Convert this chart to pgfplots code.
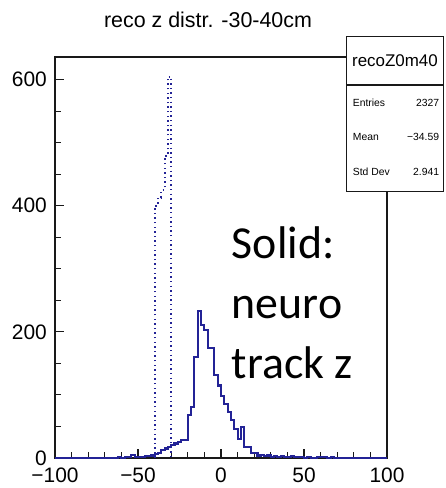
\documentclass[border=0pt]{standalone}
\usepackage{fontspec}
\setmainfont{Liberation Sans}
\newfontfamily\calibri{Carlito}
\usepackage{pgfplots}
\pgfplotsset{compat=1.18}
\definecolor{histblue}{RGB}{35,35,150}
\begin{document}
\begin{tikzpicture}[x=1bp,y=1bp]
\useasboundingbox (0,0) rectangle (446,488);
\begin{axis}[
  at={(55bp,30bp)}, anchor=south west,
  scale only axis, width=332bp, height=401bp,
  xmin=-100, xmax=100, ymin=0, ymax=636,
  axis line style={line width=1.3bp, black!90},
  tick pos=left,
  xtick={-100,-50,0,50,100},
  xticklabels={−100,−50,0,50,100},
  ytick={0,200,400,600},
  yticklabels={0,200,400,600},
  minor x tick num=4,
  minor y tick num=3,
  major tick length=9bp,
  minor tick length=5.5bp,
  tick style={line width=1.1bp, black!90},
  xticklabel style={font=\fontsize{21}{25}\selectfont, anchor=north, inner sep=0pt, yshift=-10bp},
  yticklabel style={font=\fontsize{21}{25}\selectfont, anchor=east, inner sep=0pt, xshift=-8bp},
  clip=false,
]
\addplot[histblue, line width=2.1bp, const plot, line join=miter] coordinates {
(-100,0) (-62,1) (-60,0) (-58,1) (-56,2) (-54,5) (-52,1) (-50,2) (-48,2) (-46,3)
(-44,3) (-42,4) (-40,6) (-38,8) (-36,12) (-34,15) (-32,17) (-30,20) (-28,23) (-26,25)
(-24,28) (-22,28) (-20,68) (-18,81) (-16,160) (-14,233) (-12,211) (-10,203) (-8,175) (-6,174)
(-4,131) (-2,115) (0,99) (2,86) (4,73) (6,60) (8,46) (10,30) (12,49) (14,17)
(16,17) (18,8) (20,8) (22,4) (24,5) (26,3) (28,4) (30,2) (32,3) (34,2)
(36,3) (38,2) (40,2) (42,3) (44,1) (46,2) (48,1) (50,0) (52,1) (54,0)
(58,2) (60,1) (62,1) (64,0) (66,1) (68,0) (100,0)
};
\addplot[histblue, line width=2bp, const plot, dash pattern=on 1.4bp off 3.2bp] coordinates {
(-40,0) (-40,400) (-38,413) (-36,425) (-34,479) (-32,605) (-30,605) (-30,0)
};
\end{axis}
% title
\node[anchor=base, font=\fontsize{21.5}{25}\selectfont, inner sep=0pt] at (208,460.7) {reco z distr. -30-40cm};
% stats box
\draw[line width=1.3bp, black!90, fill=white] (346.7,296.3) rectangle (443.3,451.3);
\draw[line width=1.3bp, black!90] (346.7,403) -- (443.3,403);
\node[font=\fontsize{17}{20}\selectfont, inner sep=0pt] at (395,427.5) {recoZ0m40};
\node[anchor=west, font=\fontsize{10.4}{12}\selectfont, inner sep=0pt] at (352.7,384.7) {Entries};
\node[anchor=east, font=\fontsize{10.4}{12}\selectfont, inner sep=0pt] at (439.3,384.7) {2327};
\node[anchor=west, font=\fontsize{10.4}{12}\selectfont, inner sep=0pt] at (352.7,351.3) {Mean};
\node[anchor=east, font=\fontsize{10.4}{12}\selectfont, inner sep=0pt] at (439.3,351.3) {−34.59};
\node[anchor=west, font=\fontsize{10.4}{12}\selectfont, inner sep=0pt] at (352.7,316.3) {Std Dev};
\node[anchor=east, font=\fontsize{10.4}{12}\selectfont, inner sep=0pt] at (439.3,316.3) {2.941};
% annotation
\node[anchor=base west, font=\calibri\fontsize{46}{55}\selectfont, inner sep=0pt] at (231.7,229.7) {Solid:};
\node[anchor=base west, font=\calibri\fontsize{46}{55}\selectfont, inner sep=0pt] at (231.7,169.7) {neuro};
\node[anchor=base west, font=\calibri\fontsize{46}{55}\selectfont, inner sep=0pt] at (231.7,109.7) {track z};
\end{tikzpicture}
\end{document}
